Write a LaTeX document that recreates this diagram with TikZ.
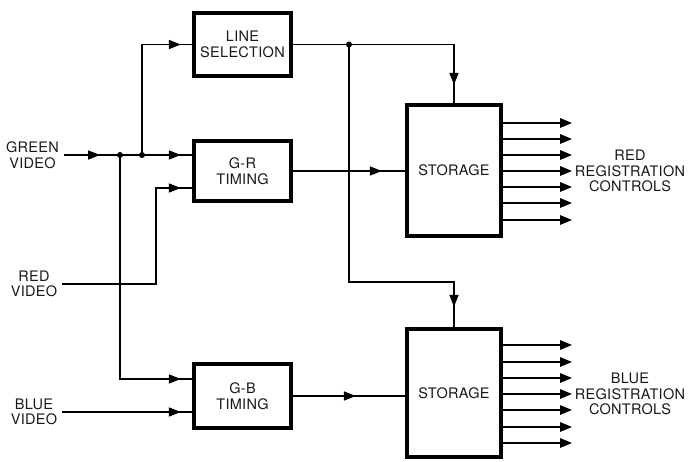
\documentclass[tikz,border=0pt]{standalone}
\usepackage{fontspec}
\setmainfont{TeX Gyre Heros}[LetterSpace=2]
\usetikzlibrary{arrows.meta,decorations.markings,calc}
\begin{document}
\begin{tikzpicture}[x=1pt,y=-1pt,
  txt/.style={font=\fontsize{14.5}{15.5}\selectfont, text=black!90, align=center},
  blk/.style={txt, draw=black, line width=3.8pt, fill=white, inner sep=0pt},
  lbl/.style={txt, inner sep=5pt},
  wire/.style={draw=black, line width=1.5pt},
  tipat/.style={postaction={decorate,decoration={markings,mark=at position #1 with {\arrow{Triangle[length=12pt,width=9pt]}}}}},
  outarr/.style={wire, -{Triangle[length=12pt,width=9.5pt]}},
  jdot/.style={circle, fill=black, inner sep=0pt, minimum size=6pt}
]
\useasboundingbox (0,0) rectangle (688,461);

% blocks
\node[blk, minimum width=97.5pt, minimum height=62.5pt] (ls) at (242.5,44.5) {LINE\\SELECTION};
\node[blk, minimum width=97.5pt, minimum height=60.5pt] (gr) at (242.5,171) {G-R\\TIMING};
\node[blk, minimum width=97.5pt, minimum height=64.5pt] (gb) at (242.5,396) {G-B\\TIMING};
\node[blk, minimum width=94.5pt, minimum height=131.5pt] (st1) at (454,170.5) {STORAGE};
\node[blk, minimum width=94.5pt, minimum height=128.5pt] (st2) at (454,393) {STORAGE};

% labels
\node[lbl] (gv) at (32.5,155) {GREEN\\VIDEO};
\node[lbl] (rv) at (34,284) {RED\\VIDEO};
\node[lbl] (bv) at (34,412) {BLUE\\VIDEO};
\node[txt, inner sep=0pt] (rrc) at (630,171) {RED\\REGISTRATION\\CONTROLS};
\node[txt, inner sep=0pt] (brc) at (630,394) {BLUE\\REGISTRATION\\CONTROLS};

% junctions
\coordinate (j1) at (120,155);
\coordinate (j2) at (142,155);
\coordinate (j3) at (349,44.5);

% green video
\draw[wire, tipat=36pt, tipat=-11pt] (gv.east) -- (gr.west |- gv.east);
\draw[wire, tipat=-11pt] (j2) |- (ls.west);
\draw[wire, tipat=-11pt] (j1) |- ([yshift=17pt]gb.west);
% red video
\draw[wire, tipat=-11pt] (rv.east) -| ($([yshift=-17pt]gr.west)+(-36,0)$) -- ([yshift=-17pt]gr.west);
% blue video
\draw[wire, tipat=-11pt] (bv.east) -- (gb.west |- bv.east);

% line selection outputs
\draw[wire, tipat=-18pt] (ls.east) -- (j3) -| (st1.north);
\draw[wire, tipat=-20pt] (j3) |- ($(st2.north)+(0,-45)$) -- (st2.north);

% timing outputs
\draw[wire, tipat=-23pt] (gr.east) -- (st1.west |- gr.east);
\draw[wire, tipat=-49pt] (gb.east) -- (st2.west |- gb.east);

% dots
\foreach \j in {j1,j2,j3} \node[jdot] at (\j) {};

% storage outputs
\foreach \y [count=\i] in {123,139,155,171,187,203,220} {
  \coordinate (ra\i) at (572,\y);
  \draw[outarr] (st1.east |- ra\i) -- (ra\i);
}
\foreach \y [count=\i] in {345,362,378,394,410,427,443} {
  \coordinate (ba\i) at (572,\y);
  \draw[outarr] (st2.east |- ba\i) -- (ba\i);
}
\end{tikzpicture}
\end{document}
